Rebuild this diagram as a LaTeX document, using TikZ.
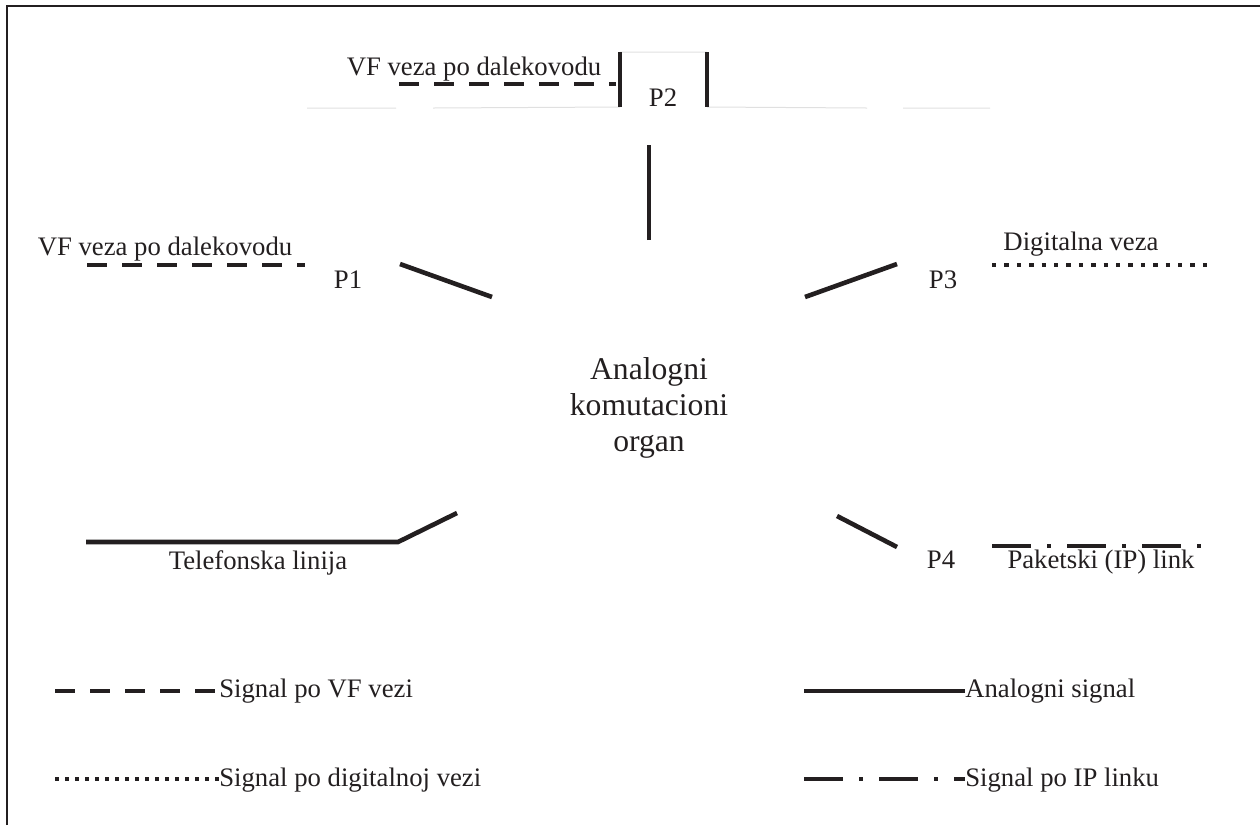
\documentclass[tikz,border=0pt]{standalone}
\usepackage{fontspec}
\setmainfont{Liberation Serif}

\definecolor{ink}{HTML}{231F20}

\tikzset{
  lbl/.style={text=ink, inner sep=0pt, font=\fontsize{19}{23}\selectfont},
  analog/.style={draw=ink, line width=1.15mm},
  vf/.style={analog, dash pattern=on 5mm off 3.75mm},
  digital/.style={analog, dash pattern=on 1.1mm off 2mm},
  iplink/.style={analog, dash pattern=on 9.75mm off 4mm on 1mm off 4mm},
  faint/.style={draw=black!12, line width=0.25mm},
}

\begin{document}
\begin{tikzpicture}[x=0.025cm, y=-0.025cm]
    \useasboundingbox (0,0) rectangle (1260,825);
    \draw[ink, line width=0.5mm] (7,825) -- (7,6) -- (1260,6);

    % komutacioni organ
    \node[lbl, font=\fontsize{22.5}{25.6}\selectfont, align=center] (organ) at (649,408)
        {Analogni\\komutacioni\\organ};

    % port P2 (gore)
    \coordinate (p2in) at (649,240);  \coordinate (p2out) at (649,145);
    \coordinate (b2lt) at (620,52);   \coordinate (b2lb) at (620,107);
    \coordinate (b2rt) at (707,52);   \coordinate (b2rb) at (707,107);
    \coordinate (vf2a) at (399,84);   \coordinate (vf2b) at (616,84);
    \draw[faint] (307,108) -- (396,108) (433,108) -- (b2lb) (b2rb) -- (867,108)
        (903,108) -- (990,108) (b2lt) -- (b2rt);
    \draw[analog] (p2in) -- (p2out);
    \draw[analog] (b2lt) -- (b2lb);
    \draw[analog] (b2rt) -- (b2rb);
    \draw[vf] (vf2a) -- (vf2b);
    \node[lbl, anchor=base] (p2) at (663,106) {P2};
    \node[lbl, anchor=base] (vf2txt) at (474,75) {VF veza po dalekovodu};

    % port P1
    \coordinate (p1in) at (492,297);  \coordinate (p1out) at (400,264);
    \coordinate (vf1a) at (87,265);   \coordinate (vf1b) at (305,265);
    \draw[analog] (p1in) -- (p1out);
    \draw[vf] (vf1a) -- (vf1b);
    \node[lbl, anchor=base] (p1) at (348,288) {P1};
    \node[lbl, anchor=base] (vf1txt) at (165,255) {VF veza po dalekovodu};

    % port P3
    \coordinate (p3in) at (805,297);  \coordinate (p3out) at (897,264);
    \coordinate (dg3a) at (992,265);  \coordinate (dg3b) at (1207,265);
    \draw[analog] (p3in) -- (p3out);
    \draw[digital] (dg3a) -- (dg3b);
    \node[lbl, anchor=base] (p3) at (943,288) {P3};
    \node[lbl, anchor=base] (dg3txt) at (1081,250) {Digitalna veza};

    % telefonska linija
    \coordinate (telin) at (457,513); \coordinate (telk) at (398,542);
    \coordinate (telout) at (86,542);
    \draw[analog] (telin) -- (telk) -- (telout);
    \node[lbl, anchor=base] (teltxt) at (258,569) {Telefonska linija};

    % port P4
    \coordinate (p4in) at (837,516);  \coordinate (p4out) at (897,547);
    \coordinate (ip4a) at (992,546);  \coordinate (ip4b) at (1201,546);
    \draw[analog] (p4in) -- (p4out);
    \draw[iplink] (ip4a) -- (ip4b);
    \node[lbl, anchor=base] (p4) at (941,568) {P4};
    \node[lbl, anchor=base] (ip4txt) at (1101,568) {Paketski (IP) link};

    % legenda
    \node[lbl, anchor=base west] (lgvf) at (219,697) {Signal po VF vezi};
    \node[lbl, anchor=base west] (lgdg) at (219,786) {Signal po digitalnoj vezi};
    \node[lbl, anchor=base west] (lgan) at (965,697) {Analogni signal};
    \node[lbl, anchor=base west] (lgip) at (965,786) {Signal po IP linku};
    \coordinate (lvf) at (55,691);    \coordinate (ldg) at (55,779);
    \coordinate (lan) at (804,691);   \coordinate (lip) at (804,779);
    \draw[vf] (lvf) -- (lgvf.west |- lvf);
    \draw[digital, dash pattern=on 0.95mm off 1.55mm] (ldg) -- (lgdg.west |- ldg);
    \draw[analog] (lan) -- (lgan.west |- lan);
    \draw[iplink] (lip) -- (lgip.west |- lip);
\end{tikzpicture}
\end{document}
